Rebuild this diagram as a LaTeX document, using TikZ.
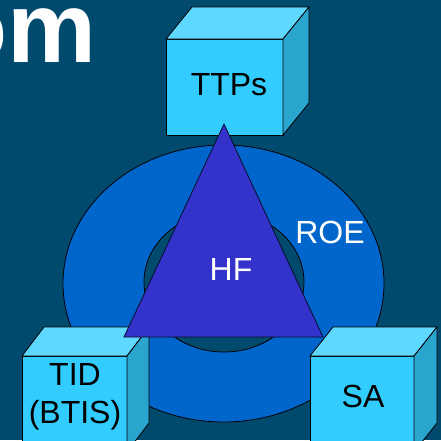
\documentclass[tikz,border=0pt]{standalone}
\usepackage{fontspec}
\setmainfont{Liberation Sans}
\usepackage{xcolor}
\usepackage{tikz}
\usetikzlibrary{positioning,calc}

\definecolor{bgblue}{RGB}{0,74,110}
\definecolor{ringblue}{RGB}{0,102,204}
\definecolor{triblue}{RGB}{51,51,204}
\definecolor{cubefront}{RGB}{51,204,255}
\definecolor{cubetop}{RGB}{94,216,255}
\definecolor{cubeside}{RGB}{41,165,206}

\begin{document}
\begin{tikzpicture}[
    x=1pt, y=-1pt,
    face/.style = {draw=black, line width=0.8pt, line join=round},
    frontface/.style = {face, fill=cubefront},
    topface/.style = {face, fill=cubetop},
    sideface/.style = {face, fill=cubeside},
    cubetext/.style = {inner sep=0pt, font=\fontsize{32}{38}\selectfont, align=center},
    whitetext/.style = {cubetext, text=white}
  ]
  % background
  \fill[bgblue] (0,0) rectangle (441,440);
  \clip (0,0) rectangle (441,440);
  \node[anchor=base west, inner sep=0pt, text=white,
        font=\fontsize{100}{120}\selectfont\bfseries] (title) at (-54,62) {om};

  % ring
  \draw[face, fill=ringblue] (223.5,283.5) ellipse [x radius=160.5pt, y radius=138.5pt];
  \draw[face, fill=bgblue] (224,282) ellipse [x radius=80pt, y radius=70pt];

  % TTPs
  \begin{scope}[shift={(166,39)}]
    \draw[frontface] (0,0) rectangle (117,96);
    \draw[topface] (0,0) -- (26,-32) -- (143,-32) -- (117,0) -- cycle;
    \draw[sideface] (117,0) -- (143,-32) -- (143,64) -- (117,96) -- cycle;
    \node[cubetext, anchor=base] (ttps) at (63,56) {TTPs};
  \end{scope}

  % TID
  \begin{scope}[shift={(22,356)}]
    \draw[frontface] (0,0) rectangle (105,96);
    \draw[topface] (0,0) -- (22,-29) -- (127,-29) -- (105,0) -- cycle;
    \draw[sideface] (105,0) -- (127,-29) -- (127,67) -- (105,96) -- cycle;
    \node[cubetext, anchor=base] (tid) at (53,67) {TID\\(BTIS)};
  \end{scope}

  % SA
  \begin{scope}[shift={(310,356)}]
    \draw[frontface] (0,0) rectangle (104,96);
    \draw[topface] (0,0) -- (23,-29) -- (127,-29) -- (104,0) -- cycle;
    \draw[sideface] (104,0) -- (127,-29) -- (127,67) -- (104,96) -- cycle;
    \node[cubetext, anchor=base] (sa) at (53,51) {SA};
  \end{scope}

  % triangle
  \coordinate (apex) at (224,124);
  \coordinate (left) at (124,337);
  \coordinate (right) at (323,337);
  \draw[face, draw=black!80!triblue, fill=triblue] (apex) -- (left) -- (right) -- cycle;
  \node[whitetext, anchor=base] (hf) at (231,280) {HF};
  \node[whitetext, anchor=base] (roe) at (330,243) {ROE};
\end{tikzpicture}
\end{document}
